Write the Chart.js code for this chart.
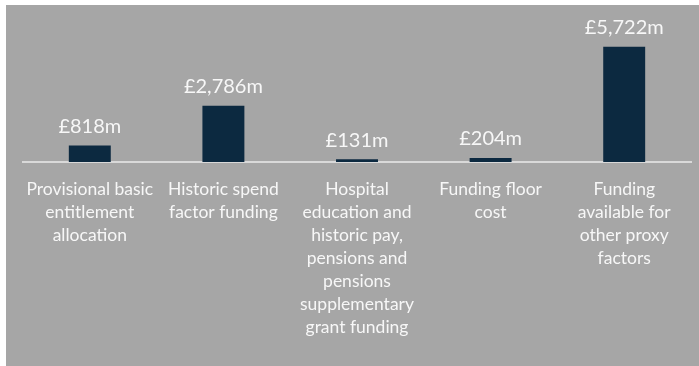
<!DOCTYPE html>
<html>
<head>
<meta charset="utf-8">
<script src="https://cdn.jsdelivr.net/npm/chart.js@4"></script>
<style>
  html, body { margin: 0; padding: 0; background: #ffffff; }
  #wrap { position: absolute; left: 6px; top: 5px; width: 693px; height: 361px; background: #a6a6a6; }
</style>
</head>
<body>
<div id="wrap"><canvas id="fundingChart" width="693" height="361"></canvas></div>
<script>
'use strict';

// Funding blocks (£m)
const categories = [
  ['Provisional basic', 'entitlement', 'allocation'],
  ['Historic spend', 'factor funding'],
  ['Hospital', 'education and', 'historic pay,', 'pensions and', 'pensions', 'supplementary', 'grant funding'],
  ['Funding floor', 'cost'],
  ['Funding', 'available for', 'other proxy', 'factors']
];
const amounts = [818, 2786, 131, 204, 5722];

const barColour  = '#0c2940';
const textColour = '#f7f7f7';
const axisColour = '#d9d9d9';
const fontFamily = "Lato, 'Open Sans', sans-serif";

// Writes "£1,234m" above each bar
const valueLabels = {
  id: 'valueLabels',
  afterDatasetsDraw(chart) {
    const ctx = chart.ctx;
    const meta = chart.getDatasetMeta(0);
    ctx.save();
    ctx.fillStyle = textColour;
    ctx.font = '20px ' + fontFamily;
    ctx.textAlign = 'center';
    ctx.textBaseline = 'middle';
    meta.data.forEach((bar, i) => {
      ctx.fillText('£' + amounts[i].toLocaleString('en-GB') + 'm', bar.x, bar.y - 19);
    });
    ctx.restore();
  }
};

new Chart(document.getElementById('fundingChart'), {
  type: 'bar',
  data: {
    labels: categories,
    datasets: [{
      data: amounts,
      backgroundColor: barColour,
      borderWidth: 0,
      categoryPercentage: 1,
      barPercentage: 0.314
    }]
  },
  options: {
    responsive: false,
    animation: false,
    layout: { padding: { left: 17, right: 8, top: 20, bottom: 0 } },
    plugins: { legend: { display: false }, tooltip: { enabled: false } },
    scales: {
      x: {
        afterFit: (scale) => { scale.height = 204; },
        grid: { display: false, drawTicks: false },
        border: { display: true, color: axisColour, width: 2 },
        ticks: { color: textColour, font: { family: fontFamily, size: 17.5, lineHeight: '23px' }, padding: 16, maxRotation: 0, autoSkip: false }
      },
      y: { display: false, min: 0, max: 6800 }
    }
  },
  plugins: [valueLabels]
});
</script>
</body>
</html>
